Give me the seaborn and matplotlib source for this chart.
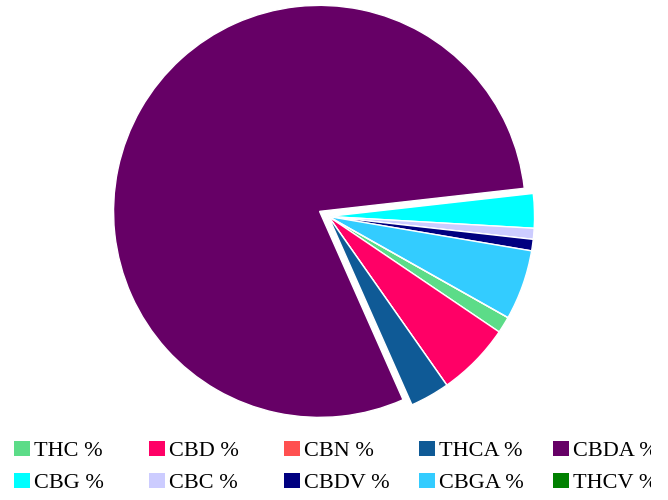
import matplotlib
matplotlib.use("Agg")
import matplotlib.pyplot as plt
import matplotlib.patches as mpatches
from matplotlib.transforms import Bbox, TransformedBbox
import seaborn as sns

# Data
labels = ["THC %", "CBD %", "CBN %", "THCA %", "CBDA %",
          "CBG %", "CBC %", "CBDV %", "CBGA %", "THCV %"]
values = [1.3, 5.8, 0.0, 3.1, 79.9, 2.7, 0.86, 0.9, 5.5, 0.0]
colors = ["#5CDC88", "#FF0066", "#FF5050", "#0F5A96", "#660066",
          "#00FFFF", "#CCCCFF", "#000080", "#33CCFF", "#008000"]
explode = [0, 0, 0, 0, 0.05, 0, 0, 0, 0, 0]

sns.set_theme(style="white")
plt.rcParams["font.family"] = ["Liberation Serif", "DejaVu Serif"]

W, H = 668, 500
fig = plt.figure(figsize=(W / 100, H / 100), dpi=100)

cx, cy, r_px, lim = 328.5, 216.5, 206, 1.2
S = 2 * lim * r_px
ax = fig.add_axes([(cx - S / 2) / W, (H - cy - S / 2) / H, S / W, S / H])

palette = sns.color_palette(colors)
wedges, _ = ax.pie(values, colors=palette, explode=explode, startangle=-29.4,
                   counterclock=False, radius=1,
                   wedgeprops=dict(edgecolor="white", linewidth=1.0))
ax.set_xlim(-lim, lim)
ax.set_ylim(-lim, lim)
ax.set_aspect("equal")
ax.axis("off")

clip = TransformedBbox(Bbox([[0, 0], [651 / W, 1]]), fig.transFigure)

fs = 16
col_x = [14, 149, 284, 419, 553]
for c in range(5):
    idx = [c, c + 5]
    handles = [mpatches.Patch(facecolor=palette[i], edgecolor="none") for i in idx]
    leg = fig.legend(handles, [labels[i] for i in idx], loc="upper left",
                     bbox_to_anchor=(col_x[c] / W, 1 - 441 / H),
                     bbox_transform=fig.transFigure, frameon=False,
                     fontsize=fs, borderpad=0, borderaxespad=0,
                     handlelength=0.72, handleheight=0.68, handletextpad=0.18,
                     labelspacing=0.5)
    for t in leg.get_texts():
        t.set_color("black")
        t.set_clip_box(clip)
        t.set_clip_on(True)

fig.savefig("out.png", dpi=100)
